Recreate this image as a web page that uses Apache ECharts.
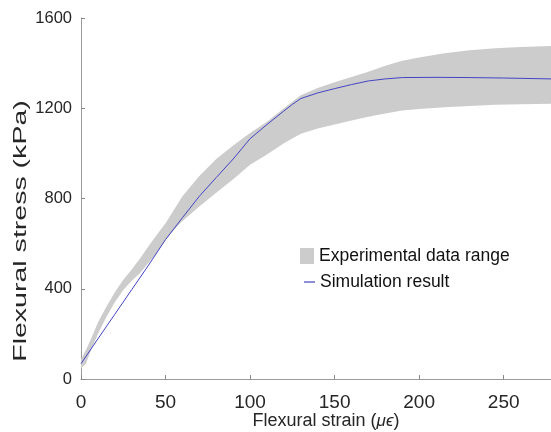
<!DOCTYPE html>
<html>
<head>
<meta charset="utf-8">
<script src="https://cdn.jsdelivr.net/npm/echarts@6/dist/echarts.min.js"></script>
<style>
html,body{margin:0;padding:0;background:#fff;}
#chart{width:551px;height:432px;}
</style>
</head>
<body>
<div id="chart"></div>
<script>
// experimental band (strain, lower, upper)
var bandStrain = [0, 3, 6, 10, 15, 20, 25, 30, 35, 40, 45, 50, 55, 60, 70, 80, 90, 100, 110, 120, 130, 140, 150, 160, 170, 180, 190, 200, 215, 230, 245, 260, 278];
var bandLower  = [45, 70, 130, 200, 275, 340, 395, 435, 470, 515, 560, 615, 660, 700, 765, 826, 885, 950, 995, 1045, 1087, 1110, 1128, 1146, 1162, 1177, 1190, 1197, 1204, 1210, 1215, 1218, 1220];
var bandUpper  = [88, 130, 180, 250, 320, 385, 440, 485, 535, 590, 640, 690, 750, 810, 900, 975, 1035, 1090, 1140, 1200, 1258, 1290, 1315, 1338, 1362, 1388, 1410, 1425, 1444, 1457, 1466, 1472, 1476];
// simulation curve
var simStrain = [0, 10, 20, 30, 40, 50, 60, 70, 80, 90, 100, 110, 120, 125, 130, 140, 150, 160, 170, 180, 190, 210, 230, 250, 278];
var simStress = [68, 178, 287, 396, 505, 618, 715, 810, 893, 975, 1065, 1128, 1188, 1217, 1243, 1268, 1287, 1305, 1321, 1330, 1336, 1337, 1336, 1334, 1330];

var fontName = '"Liberation Sans", Arial, "DejaVu Sans", sans-serif';
var bandColor = '#cccccc';
var simColor = '#4444c4';

var simData = [];
for (var j = 0; j < simStrain.length; j++) {
    simData.push([simStrain[j], simStress[j]]);
}

// band drawn as one polygon: upper edge forward, lower edge back
function renderBand(params, api) {
    var pts = [];
    for (var i = 0; i < bandStrain.length; i++) {
        pts.push(api.coord([bandStrain[i], bandUpper[i]]));
    }
    for (var k = bandStrain.length - 1; k >= 0; k--) {
        pts.push(api.coord([bandStrain[k], bandLower[k]]));
    }
    return {
        type: 'polygon',
        shape: {points: pts},
        style: {fill: bandColor, stroke: null}
    };
}

var chart = echarts.init(document.getElementById('chart'));

var legendText = {
    fontSize: 17.5,
    fontFamily: fontName,
    color: '#111'
};

var option = {
    animation: false,
    grid: {
        left: 81,
        right: 0,
        top: 18,
        bottom: 53
    },
    legend: [
        {
            orient: 'vertical',
            left: 300,
            top: 247,
            padding: 0,
            itemWidth: 14,
            itemHeight: 16,
            textStyle: legendText,
            data: [{name: 'Experimental data range', icon: 'rect', itemStyle: {color: bandColor, borderWidth: 0}}]
        },
        {
            orient: 'vertical',
            left: 304,
            top: 273,
            padding: 0,
            itemWidth: 11,
            itemHeight: 1.2,
            textStyle: legendText,
            data: [{name: 'Simulation result', icon: 'rect', itemStyle: {color: simColor, borderWidth: 0}}]
        }
    ],
    xAxis: {
        type: 'value',
        min: 0,
        max: 278,
        interval: 50,
        splitLine: {show: false},
        axisLine: {lineStyle: {color: '#9a9a9a'}},
        axisTick: {inside: true, length: 4, lineStyle: {color: '#888'}},
        axisLabel: {
            fontSize: 19,
            fontFamily: fontName,
            color: '#262626',
            margin: 14,
            showMaxLabel: false,
            formatter: function (v) { return v % 50 === 0 ? String(v) : ''; }
        }
    },
    yAxis: {
        type: 'value',
        min: 0,
        max: 1600,
        interval: 400,
        splitLine: {show: false},
        axisLine: {show: true, lineStyle: {color: '#9a9a9a'}},
        axisTick: {show: true, inside: true, length: 4, lineStyle: {color: '#888'}},
        axisLabel: {
            fontSize: 16.5,
            fontFamily: fontName,
            color: '#262626',
            margin: 9,
            formatter: function (v) { return String(v); }
        }
    },
    graphic: [
        {
            type: 'text',
            x: 21,
            y: 231,
            rotation: Math.PI / 2,
            scaleX: 1.63,
            style: {
                text: 'Flexural stress (kPa)',
                font: '17.5px ' + fontName,
                fill: '#262626',
                align: 'center',
                textAlign: 'center',
                verticalAlign: 'middle',
                textVerticalAlign: 'middle'
            }
        },
        {
            type: 'text',
            x: 326,
            y: 421,
            style: {
                text: 'Flexural strain ({i|μϵ})',
                font: '18px ' + fontName,
                fill: '#262626',
                align: 'center',
                textAlign: 'center',
                verticalAlign: 'middle',
                textVerticalAlign: 'middle',
                rich: {
                    i: {fontStyle: 'italic', fontSize: 17, fontFamily: fontName, fill: '#262626'}
                }
            }
        }
    ],
    series: [
        {
            name: 'Experimental data range',
            type: 'custom',
            silent: true,
            itemStyle: {color: bandColor},
            renderItem: renderBand,
            data: [[0, 0]],
            z: 1
        },
        {
            name: 'Simulation result',
            type: 'line',
            symbol: 'none',
            itemStyle: {color: simColor},
            lineStyle: {color: simColor, width: 1},
            data: simData,
            z: 5
        }
    ]
};

chart.setOption(option);
</script>
</body>
</html>
